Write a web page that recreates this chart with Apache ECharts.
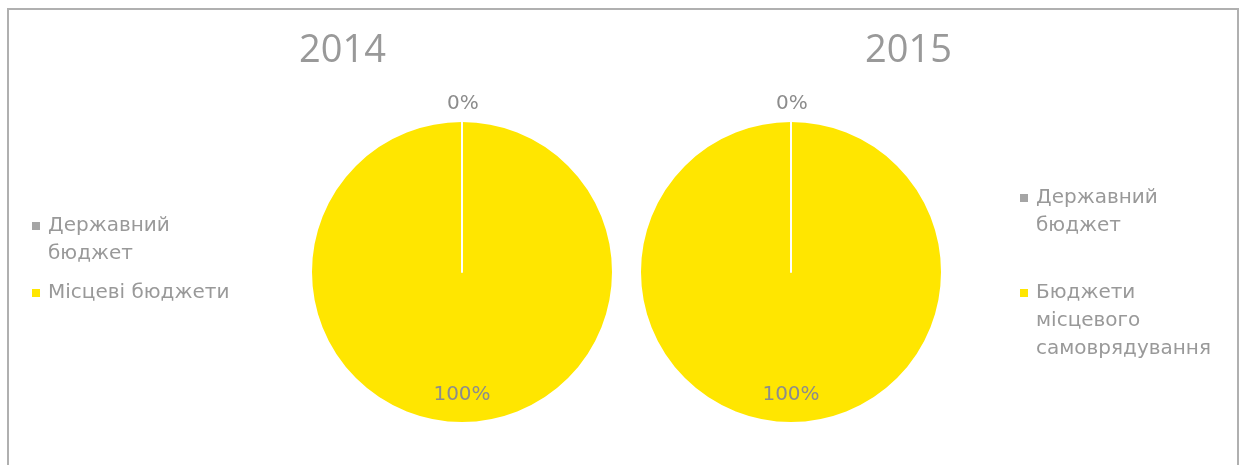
<!DOCTYPE html>
<html>
<head>
<meta charset="utf-8">
<script src="https://cdn.jsdelivr.net/npm/echarts@6/dist/echarts.min.js"></script>
<style>
  html, body { margin: 0; padding: 0; background: #fff; overflow: hidden; }
  #wrap { position: relative; width: 1244px; height: 465px; overflow: hidden; }
  #chart { width: 1244px; height: 465px; }
  #frame { position: absolute; left: 7px; top: 8px; width: 1228px; height: 520px;
           border: 2px solid #b0b0b0; pointer-events: none; box-sizing: content-box; }
</style>
</head>
<body>
<div id="wrap"><div id="chart"></div><div id="frame"></div></div>
<script>
// ---- data ----
const years = ['2014', '2015'];
const categories2014 = ['Державний бюджет', 'Місцеві бюджети'];
const categories2015 = ['Державний бюджет', 'Бюджети місцевого самоврядування'];
const values2014 = [0, 100];
const values2015 = [0, 100];

const colors = ['#a5a5a5', '#ffe600'];
const textGray = '#999999';
const font = 'DejaVu Sans';

// the 100% slice is listed first so the zero-width slice's white border is drawn on top
function makeData(cats, vals) {
  const items = cats.map((c, i) => ({
    name: c,
    value: vals[i],
    itemStyle: { color: colors[i] },
    label: i === 0
      ? { position: 'outside', offset: [-20, 0] }
      : { position: 'inside', offset: [0, 44] },
    labelLine: { show: false, length: 17, length2: 0 }
  }));
  return items.slice().reverse();
}

function pieSeries(center, cats, vals) {
  return {
    type: 'pie',
    center: center,
    radius: 151,
    startAngle: 90,
    clockwise: true,
    avoidLabelOverlap: false,
    animation: false,
    silent: true,
    itemStyle: { borderColor: '#ffffff', borderWidth: 2 },
    label: {
      show: true,
      formatter: '{d}%',
      fontFamily: font,
      fontSize: 20,
      color: '#8c8c8c'
    },
    labelLine: { show: false, length: 17, length2: 0 },
    emphasis: { disabled: true },
    data: makeData(cats, vals)
  };
}

// leading empty lines keep the legend square beside the first text line
function legendItem(name, left, top, breakWords, color) {
  return {
    orient: 'vertical',
    left: left,
    top: top,
    padding: 0,
    icon: 'path://M0,0H10V10H0Z',
    itemWidth: 14,
    itemHeight: 10,
    itemGap: 0,
    selectedMode: false,
    data: [{ name: name, itemStyle: { color: color } }],
    formatter: function (n) {
      if (!breakWords) return n;
      const lines = n.split(' ');
      const pad = new Array(lines.length - 1).fill('');
      return pad.concat(lines).join('\n');
    },
    textStyle: {
      fontFamily: font,
      fontSize: 20,
      lineHeight: 28,
      color: textGray
    }
  };
}

const chart = echarts.init(document.getElementById('chart'), null, { renderer: 'canvas' });
chart.setOption({
  backgroundColor: '#ffffff',
  animation: false,
  title: [
    { text: years[0], left: 299, top: 32, padding: 0,
      textStyle: { fontFamily: 'Open Sans', fontSize: 38, fontWeight: 'normal', color: textGray } },
    { text: years[1], left: 865, top: 32, padding: 0,
      textStyle: { fontFamily: 'Open Sans', fontSize: 38, fontWeight: 'normal', color: textGray } }
  ],
  legend: [
    legendItem(categories2014[0], 30, 184, true, colors[0]),
    legendItem(categories2014[1], 30, 279, false, colors[1]),
    legendItem(categories2015[0], 1018, 156, true, colors[0]),
    legendItem(categories2015[1], 1018, 223, true, colors[1])
  ],
  series: [
    pieSeries([462, 272], categories2014, values2014),
    pieSeries([791, 272], categories2015, values2015)
  ]
});
</script>
</body>
</html>
